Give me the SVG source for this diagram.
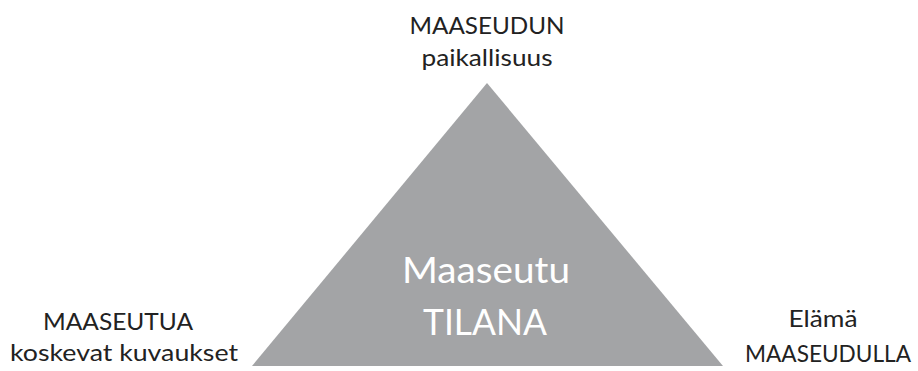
<svg xmlns="http://www.w3.org/2000/svg" width="918" height="371" viewBox="0 0 918 371">
<style>
.lbl{font-family:Lato,"Liberation Sans",sans-serif;font-size:24px;fill:#222222;text-anchor:middle}
.in{font-family:Lato,"Liberation Sans",sans-serif;font-size:37px;fill:#ffffff;text-anchor:middle}
</style>
<rect width="918" height="371" fill="#ffffff"/>
<g id="triangle">
<polygon points="487,83 252,366 723,366" fill="#a3a4a6"/>
<text class="in" x="486" y="283" textLength="168" lengthAdjust="spacingAndGlyphs">Maaseutu</text>
<text class="in" x="485" y="335" textLength="124" lengthAdjust="spacingAndGlyphs">TILANA</text>
</g>
<g id="top">
<text class="lbl" x="487" y="34" textLength="155" lengthAdjust="spacingAndGlyphs">MAASEUDUN</text>
<text class="lbl" x="487" y="66" textLength="131" lengthAdjust="spacingAndGlyphs">paikallisuus</text>
</g>
<g id="left">
<text class="lbl" x="118" y="330" textLength="150" lengthAdjust="spacingAndGlyphs">MAASEUTUA</text>
<text class="lbl" x="124" y="361" textLength="228" lengthAdjust="spacingAndGlyphs">koskevat kuvaukset</text>
</g>
<g id="right">
<text class="lbl" x="823" y="327" textLength="69" lengthAdjust="spacingAndGlyphs">Elämä</text>
<text class="lbl" x="828" y="362" textLength="166" lengthAdjust="spacingAndGlyphs">MAASEUDULLA</text>
</g>
<g id="connectors"></g>
</svg>
